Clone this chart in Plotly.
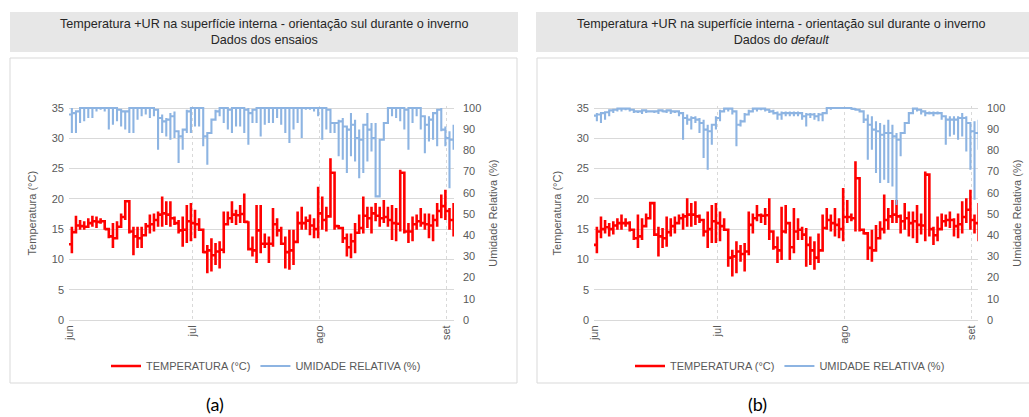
import plotly.graph_objects as go

W, H = 1029, 417

month_ticks = [0, 30, 61, 92]
month_labels = ["jun", "jul", "ago", "set"]

# ---------------- Panel (a): Dados dos ensaios ----------------
ta_start = 12.5
ta_hi = [15.4,17.2,16.5,16.3,16.8,17.2,17.1,16.8,16.3,14.3,
         16.0,16.3,17.6,19.6,19.6,15.4,15.4,15.4,16.0,17.4,
         17.6,17.9,20.4,19.6,19.6,17.1,16.5,17.1,19.0,19.3,
         18.2,16.8,14.9,12.4,13.5,12.7,13.0,17.9,17.9,19.6,
         18.2,19.0,20.9,16.3,13.8,19.0,19.0,14.3,13.8,18.5,
         16.8,15.4,13.8,14.9,14.9,17.9,18.7,17.1,17.4,16.8,
         22.0,20.4,18.7,26.7,24.3,15.7,15.2,14.3,14.3,16.0,
         17.4,20.4,18.7,18.7,19.3,18.7,19.8,18.7,19.0,18.5,
         24.8,24.0,16.0,17.1,17.4,18.5,17.6,17.6,17.4,19.3,
         20.7,21.5,18.5,19.3]
ta_lo = [11.0,14.3,14.9,14.9,15.2,15.4,15.2,15.9,14.9,13.5,
         11.9,13.5,15.4,16.5,14.3,10.7,11.9,11.9,13.8,14.3,
         14.6,15.4,15.4,15.7,15.4,15.7,14.3,12.1,12.7,13.0,
         13.5,14.9,11.0,7.7,8.0,9.1,8.5,11.0,15.7,16.0,
         15.7,16.0,16.0,13.0,10.5,9.4,11.0,11.9,9.4,12.1,
         13.8,12.4,8.5,8.3,9.1,12.7,14.9,14.9,14.0,13.5,
         13.5,14.9,14.6,17.1,14.9,15.2,12.7,10.5,10.2,11.0,
         14.3,14.3,15.2,14.3,16.3,15.4,16.0,15.4,13.2,13.0,
         14.6,14.3,12.7,13.0,14.9,15.4,14.9,13.5,13.0,15.4,
         16.8,16.5,14.9,13.8]
ta_end = [14.5,15.6,15.5,15.4,16.0,16.3,16.2,16.3,15.0,13.8,
          13.5,15.4,17.0,19.6,14.6,13.8,13.5,14.0,15.5,15.8,
          16.5,17.4,17.6,17.4,16.8,16.0,14.8,14.9,16.3,16.0,
          15.8,14.9,11.2,11.5,10.7,11.3,11.6,15.8,16.8,17.4,
          17.3,17.5,16.2,11.7,11.5,14.8,12.6,12.6,12.6,15.8,
          14.8,12.6,11.2,11.5,12.9,16.0,16.0,16.4,15.6,15.0,
          17.6,16.5,17.1,24.3,15.5,15.2,13.5,12.0,13.0,14.4,
          15.2,17.2,16.8,17.6,17.2,16.8,17.0,16.5,16.0,15.9,
          24.3,14.6,14.6,15.8,16.3,16.0,15.8,15.6,16.5,18.0,
          18.8,18.0,16.5,15.0]

ra_start = 96.9
ra_hi = [100,98.4,100,100,100,100,100,100,100,100,
         100,100,99.2,98.4,100,100,100,100,100,100,
         100,99.2,96.9,95.3,97.6,98.4,89.0,89.8,99.2,100,
         100,100,88.2,86.6,94.5,99.2,100,100,99.2,100,
         100,100,99.2,100,99.2,100,100,100,100,100,
         100,100,100,100,100,100,100,100,100,100,
         100,100,100,99.2,92.9,94.5,95.3,91.3,97.6,94.5,
         89.8,85.0,97.6,92.9,92.9,85.0,92.9,100,100,100,
         100,99.2,100,100,100,99.2,95.3,96.1,97.6,99.2,
         100,91.3,89.0,92.1]
ra_lo = [88.2,88.2,92.9,93.7,95.3,95.3,98.4,99.2,98.4,89.8,
         92.1,93.7,91.3,89.8,88.2,88.2,94.5,96.1,96.9,95.3,
         96.1,80.3,88.2,86.6,85.0,85.8,74.0,80.3,88.2,88.2,
         91.3,91.3,81.9,73.2,91.3,96.1,96.1,92.9,89.8,88.2,
         91.3,91.3,88.2,82.7,92.9,92.9,86.6,92.1,92.9,92.9,
         95.3,92.1,88.2,83.5,89.8,92.9,85.8,99.2,99.2,98.4,
         96.1,85.0,89.8,88.2,88.2,77.2,75.6,69.3,77.2,74.8,
         66.9,69.3,74.8,79.5,58.3,58.3,85.0,92.9,96.1,95.3,
         93.7,89.8,80.3,92.9,96.1,89.8,78.7,84.2,85.0,81.9,
         89.0,81.9,62.2,80.3]
ra_end = [97.6,98.4,100,100,100,100,100,100,100,100,
          100,99.2,98.4,98.4,100,100,100,100,100,100,
          99.2,95.3,93.7,94.5,96.1,89.0,86.6,89.8,98.4,100,
          100,100,86.6,88.2,94.5,98.4,100,100,99.2,100,
          100,100,99.2,97.6,99.2,100,100,100,100,100,
          100,100,100,100,100,100,100,100,100,100,
          100,100,99.2,92.9,92.9,93.7,91.3,89.8,92.1,85.8,
          85.0,92.1,89.8,85.8,58.3,85.0,92.9,100,100,100,
          100,99.2,100,100,100,96.1,92.1,94.5,97.6,99.2,
          89.8,85.8,85.0,85.0]

# ---------------- Panel (b): Dados do default ----------------
tb_start = 12.4
tb_hi = [15.4,17.1,16.5,16.0,16.3,16.8,17.4,16.8,16.3,14.6,
         17.4,16.8,17.6,19.3,19.3,15.4,15.2,17.1,16.8,17.1,
         17.4,17.6,20.1,19.3,19.6,17.4,16.5,17.9,19.0,19.3,
         17.9,16.8,12.1,11.6,13.0,12.4,12.7,17.9,17.6,19.0,
         17.6,18.5,20.1,14.6,13.8,18.7,19.0,13.8,18.5,16.8,
         15.4,15.2,13.8,13.0,14.3,17.4,18.5,17.4,18.5,16.8,
         21.8,19.8,17.6,26.2,23.4,14.9,13.8,14.9,15.7,16.3,
         20.7,18.5,19.8,19.8,17.4,19.3,17.9,17.9,19.0,17.6,
         24.5,24.0,15.4,17.1,17.6,17.4,17.9,16.8,17.6,19.6,
         20.1,21.5,17.4,19.3]
tb_lo = [11.0,13.5,14.3,13.8,14.1,14.9,14.9,15.4,14.6,13.2,
         11.9,13.2,16.0,16.8,15.7,10.5,11.9,12.1,13.8,14.3,
         16.0,14.9,15.4,15.4,15.7,16.0,13.8,11.9,12.7,12.7,
         13.0,14.9,8.8,7.2,7.7,9.6,8.0,10.7,14.3,16.3,
         16.0,15.7,13.2,11.6,9.4,9.9,14.3,9.9,11.0,13.2,
         13.2,8.8,9.1,8.3,9.4,12.1,14.9,14.6,13.8,13.5,
         13.0,16.0,16.3,14.6,14.6,14.1,9.9,9.6,11.6,13.5,
         14.3,14.9,16.0,16.0,14.3,14.9,13.8,13.5,12.7,14.1,
         13.0,13.8,12.4,13.0,14.9,15.4,15.2,13.8,13.5,14.3,
         16.0,14.9,14.3,13.0]
tb_end = [14.6,15.0,15.3,15.0,15.6,16.0,16.0,16.0,14.9,13.5,
          13.8,15.5,16.8,19.3,14.1,13.8,13.5,14.5,15.5,16.0,
          16.8,17.1,17.4,17.4,17.1,16.5,14.6,15.0,16.3,16.0,
          15.5,14.9,10.3,10.5,11.3,10.9,11.3,15.7,16.8,17.3,
          17.2,17.3,14.6,12.0,11.5,14.6,16.0,12.0,14.6,14.9,
          14.1,12.4,11.5,10.3,11.5,15.2,16.5,16.0,15.7,15.0,
          17.0,17.0,16.8,23.4,14.9,14.3,11.9,11.5,13.5,15.0,
          16.5,17.1,17.4,17.1,16.3,16.8,16.0,16.3,15.7,15.6,
          24.0,15.0,14.0,15.0,16.3,16.5,16.5,15.5,15.8,17.0,
          18.2,16.5,16.0,15.0]

rb_start = 96.4
rb_hi = [97.6,97.6,98.4,98.9,99.2,99.7,99.7,99.7,99.7,99.2,
         98.9,98.9,98.9,98.9,98.9,98.9,98.9,98.9,98.9,98.9,
         98.9,97.6,96.9,96.1,96.1,95.3,94.5,92.1,92.1,96.1,
         99.2,99.7,99.7,99.2,98.4,94.5,97.6,99.2,99.7,99.7,
         99.7,99.7,99.2,99.2,98.4,98.4,98.4,98.4,98.4,98.4,
         97.6,97.6,97.6,97.6,97.6,97.6,100,100,100,100,
         100,100,100,100,99.2,98.4,96.9,96.1,93.7,92.9,
         92.1,94.5,92.1,88.2,88.2,92.9,97.6,99.7,99.7,99.2,
         98.4,98.4,98.4,98.4,97.6,96.1,96.1,96.1,96.1,97.6,
         96.1,92.9,93.7,94.5]
rb_lo = [93.7,92.9,94.5,96.1,97.6,98.4,98.4,98.9,98.4,97.6,
         97.6,97.2,97.6,98.0,97.6,97.2,98.0,97.6,97.2,97.6,
         96.1,85.0,92.1,89.8,92.9,88.2,76.4,70.9,82.7,89.8,
         93.7,98.4,98.4,96.9,81.9,91.3,95.3,96.9,98.4,98.4,
         98.9,98.4,97.6,96.9,94.5,94.5,96.1,96.1,96.1,96.1,
         94.5,91.3,95.3,94.5,93.7,93.7,99.2,99.2,99.6,99.6,
         99.6,99.6,99.2,99.2,98.4,92.9,75.6,80.3,69.3,64.6,
         66.1,64.6,63.0,54.3,77.2,88.2,94.5,98.4,98.4,96.9,
         96.1,96.9,96.1,96.9,94.5,82.7,86.6,87.4,85.0,86.6,
         79.5,70.9,56.7,80.3]
rb_end = [96.9,97.6,98.0,98.9,99.2,99.7,99.7,99.7,99.2,98.4,
          98.4,98.9,98.4,98.4,98.4,98.9,98.4,98.9,98.4,98.4,
          97.6,95.3,94.5,95.3,94.5,92.9,89.8,89.0,92.1,95.3,
          98.4,99.7,99.7,98.4,92.1,93.7,96.9,98.4,99.7,99.7,
          99.7,99.2,98.4,97.6,96.9,97.6,97.6,97.6,97.6,97.6,
          96.1,96.9,96.9,96.1,96.9,97.6,100,100,100,100,
          100,100,99.6,99.2,98.4,94.5,92.1,89.8,89.0,87.4,
          88.2,88.2,86.6,85.0,88.2,92.9,97.6,99.7,99.2,98.4,
          97.6,97.6,97.6,97.6,96.1,94.5,94.5,94.5,95.3,95.3,
          92.9,89.0,88.2,88.2]

title_line1 = "Temperatura +UR na superfície interna - orientação sul durante o inverno"
subtitles = ["Dados dos ensaios", "Dados do <i>default</i>"]
captions = ["(a)", "(b)"]
name_t = "TEMPERATURA (°C)"
name_rh = "UMIDADE RELATIVA (%)"

RED = "#ff0000"
BLUE = "#8db4e2"
GRID = "#d9d9d9"
TXT = "#595959"
FONT = "Liberation Sans"


def daily_path(start, hi, lo, end, offset=0.3):
    """Excel-like date-axis line: all readings of a day share one x."""
    xs, ys = [0.0], [start]
    prev = start
    for i, (h, l, e) in enumerate(zip(hi, lo, end)):
        x = i + 1 - offset
        xs += [x, x, x, x]
        ys += [prev, h, l, e]
        prev = e
    return xs, ys


fig = go.Figure()

panels = [
    dict(t=(ta_start, ta_hi, ta_lo, ta_end), r=(ra_start, ra_hi, ra_lo, ra_end),
         xa="x", ya="y", ya2="y2", leg="legend"),
    dict(t=(tb_start, tb_hi, tb_lo, tb_end), r=(rb_start, rb_hi, rb_lo, rb_end),
         xa="x2", ya="y3", ya2="y4", leg="legend2"),
]
for p in panels:
    x, y = daily_path(*p["t"])
    fig.add_trace(go.Scatter(x=x, y=y, mode="lines", name=name_t,
                             line=dict(color=RED, width=2.6),
                             xaxis=p["xa"], yaxis=p["ya"], legend=p["leg"]))
    x, y = daily_path(*p["r"])
    fig.add_trace(go.Scatter(x=x, y=y, mode="lines", name=name_rh,
                             line=dict(color=BLUE, width=2.1),
                             xaxis=p["xa"], yaxis=p["ya2"], legend=p["leg"]))


def px_x(v):
    return v / W


def px_y(v):
    return 1 - v / H


y_dom = [px_y(320), px_y(106.3)]
tfont = dict(family=FONT, size=11, color=TXT)

xcommon = dict(tickvals=month_ticks, ticktext=month_labels, tickangle=-90,
               showgrid=True, gridcolor=GRID, griddash="dot", gridwidth=1,
               zeroline=False, showline=True, linecolor=GRID, linewidth=1,
               ticks="", tickfont=tfont, fixedrange=True, automargin=False)
yleft = dict(range=[0, 35 * 1.008], dtick=5, tick0=0, showgrid=True,
             gridcolor=GRID, gridwidth=1, zeroline=False, ticks="",
             tickfont=tfont, domain=y_dom, automargin=False,
             ticklabelstandoff=4,
             title=dict(text="Temperatura (°C)", font=tfont, standoff=12))
yright = dict(range=[0, 100 * 1.008], dtick=10, tick0=0, showgrid=False,
              zeroline=False, ticks="", tickfont=tfont, side="right",
              automargin=False, ticklabelstandoff=8,
              title=dict(text="Umidade Relativa (%)", font=tfont, standoff=8))

fig.update_layout(
    width=W, height=H,
    margin=dict(l=0, r=0, t=0, b=0, autoexpand=False),
    paper_bgcolor="white", plot_bgcolor="white",
    font=dict(family=FONT, size=11, color=TXT),
    xaxis=dict(domain=[px_x(69), px_x(454)], range=[0, 93.8], anchor="y", **xcommon),
    xaxis2=dict(domain=[px_x(594), px_x(978)], range=[0, 93.55], anchor="y3", **xcommon),
    yaxis=dict(anchor="x", **yleft),
    yaxis2=dict(anchor="x", overlaying="y", **yright),
    yaxis3=dict(anchor="x2", **yleft),
    yaxis4=dict(anchor="x2", overlaying="y3", **yright),
    legend=dict(orientation="h", x=px_x(266), y=px_y(366), xanchor="center",
                yanchor="middle", font=tfont, bgcolor="rgba(0,0,0,0)",
                itemwidth=30, tracegroupgap=0),
    legend2=dict(orientation="h", x=px_x(790), y=px_y(366), xanchor="center",
                 yanchor="middle", font=tfont, bgcolor="rgba(0,0,0,0)",
                 itemwidth=30, tracegroupgap=0),
    showlegend=True,
)

shapes = []
annotations = []
boxes = [dict(tx0=10, tx1=518, bx0=10, bx1=517, cx=264, cap=215),
         dict(tx0=536, tx1=1029, bx0=537, bx1=1040, cx=781, cap=757)]
for i, b in enumerate(boxes):
    shapes.append(dict(type="rect", xref="paper", yref="paper",
                       x0=px_x(b["tx0"]), x1=px_x(b["tx1"]),
                       y0=px_y(52), y1=px_y(12),
                       fillcolor="#e7e7e7", line=dict(width=0), layer="below"))
    shapes.append(dict(type="rect", xref="paper", yref="paper",
                       x0=px_x(b["bx0"]), x1=px_x(b["bx1"]),
                       y0=px_y(383), y1=px_y(58),
                       fillcolor="rgba(0,0,0,0)", line=dict(color=GRID, width=1),
                       layer="below"))
    annotations.append(dict(xref="paper", yref="paper", x=px_x(b["cx"]), y=px_y(32),
                            text=title_line1 + "<br>" + subtitles[i],
                            showarrow=False, xanchor="center", yanchor="middle",
                            align="center",
                            font=dict(family=FONT, size=12.6, color="#262626")))
    annotations.append(dict(xref="paper", yref="paper", x=px_x(b["cap"]), y=px_y(404),
                            text=captions[i], showarrow=False,
                            xanchor="center", yanchor="middle",
                            font=dict(family="Lato", size=18, color="#000000")))

fig.update_layout(shapes=shapes, annotations=annotations)

# remove the browser's default 8px page margin so the figure fills the window
post = ("document.documentElement.style.margin='0';"
        "document.body.style.margin='0';document.body.style.padding='0';"
        "document.body.style.overflow='hidden';")
fig.write_html("out.html", post_script=post, config={"displayModeBar": False})
